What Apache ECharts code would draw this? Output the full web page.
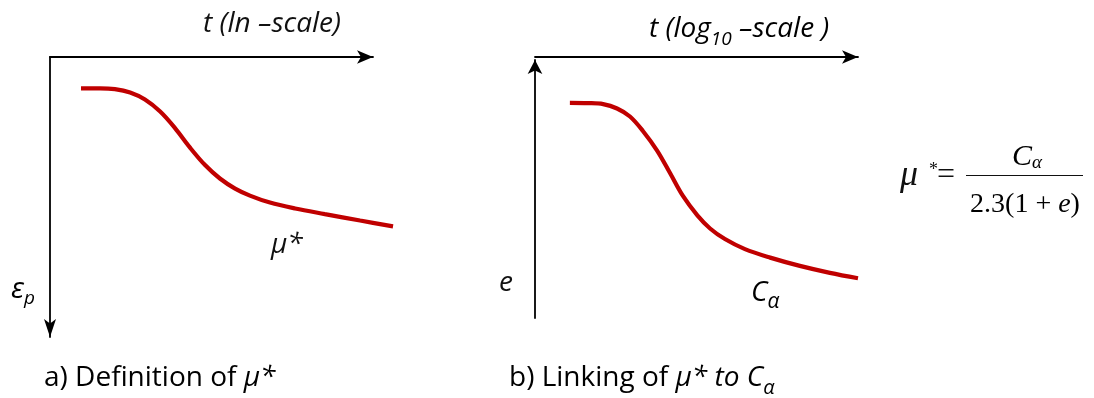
<!DOCTYPE html>
<html>
<head>
<meta charset="utf-8">
<script src="https://cdn.jsdelivr.net/npm/echarts@6/dist/echarts.min.js"></script>
<style>
  html, body { margin: 0; padding: 0; background: #fff; }
  #chart { width: 1094px; height: 398px; }
</style>
</head>
<body>
<div id="chart"></div>
<script>
// a) plastic strain against ln t (strain grows downward)
const lnTime  = [0.96, 1.55, 2.01, 2.48, 2.94, 3.41, 3.87, 4.33, 4.80, 5.26, 5.73, 6.19, 6.81, 7.59, 8.51, 9.60, 10.62];
const strainP = [1.12, 1.12, 1.15, 1.27, 1.52, 1.95, 2.54, 3.23, 3.86, 4.34, 4.70, 4.95, 5.20, 5.41, 5.61, 5.84, 6.05];

// b) void ratio against log10 t
const logTime   = [1.08, 1.64, 2.11, 2.54, 2.94, 3.34, 3.78, 4.18, 4.58, 5.02, 5.42, 5.88, 6.50, 7.28, 8.20, 9.13, 10.0];
const voidRatio = [8.34, 8.33, 8.29, 8.12, 7.81, 7.25, 6.49, 5.62, 4.73, 3.99, 3.47, 3.06, 2.67, 2.34, 2.02, 1.75, 1.54];

const curveColor = '#c00000';
const ink = '#111';
const sans = '"Open Sans", "DejaVu Sans", sans-serif';
const serif = '"Liberation Serif", "DejaVu Serif", serif';
const W = 400;

const chart = echarts.init(document.getElementById('chart'), null, { renderer: 'canvas' });

function arrowLine(arrows, size) {
  return {
    show: true, onZero: false,
    symbol: arrows, symbolSize: size,
    lineStyle: { color: '#000', width: 1.8 }
  };
}
const bare = { axisTick: { show: false }, axisLabel: { show: false }, splitLine: { show: false } };
const noLine = { show: false };

const italic = (size) => ({ fontFamily: sans, fontStyle: 'italic', fontWeight: W, fontSize: size, fill: ink });
const tok = (size, extra) => Object.assign({ fontFamily: sans, fontStyle: 'italic', fontWeight: W, fontSize: size, color: ink }, extra);

chart.setOption({
  animation: false,
  grid: [
    // a) drawn axes
    { left: 50, top: 57, width: 323, height: 280 },
    // b) drawn axes
    { left: 535, top: 60, width: 323, height: 258 },
    // a) curve runs a little past the arrow head: same scale, wider frame
    { left: 50, top: 57, width: 355.3, height: 280 }
  ],
  xAxis: [
    Object.assign({ gridIndex: 0, type: 'value', min: 0, max: 10, position: 'top',
      axisLine: arrowLine(['none', 'arrow'], [10, 16]) }, bare),
    Object.assign({ gridIndex: 1, type: 'value', min: 0, max: 10, position: 'top', offset: 3,
      axisLine: arrowLine(['none', 'arrow'], [10, 16]) }, bare),
    Object.assign({ gridIndex: 2, type: 'value', min: 0, max: 11, axisLine: noLine }, bare)
  ],
  yAxis: [
    Object.assign({ gridIndex: 0, type: 'value', min: 0, max: 10, inverse: true,
      axisLine: arrowLine(['arrow', 'none'], [9, 18]) }, bare),
    Object.assign({ gridIndex: 1, type: 'value', min: 0, max: 10,
      axisLine: arrowLine(['none', 'arrow'], [11, 14]) }, bare),
    Object.assign({ gridIndex: 2, type: 'value', min: 0, max: 10, inverse: true, axisLine: noLine }, bare)
  ],
  series: [
    {
      type: 'line', xAxisIndex: 2, yAxisIndex: 2,
      data: lnTime.map((t, i) => [t, strainP[i]]),
      smooth: 0.35, showSymbol: false, symbol: 'none',
      lineStyle: { color: curveColor, width: 4.2 }
    },
    {
      type: 'line', xAxisIndex: 1, yAxisIndex: 1, clip: false,
      data: logTime.map((t, i) => [t, voidRatio[i]]),
      smooth: 0.35, showSymbol: false, symbol: 'none',
      lineStyle: { color: curveColor, width: 4.2 }
    }
  ],
  graphic: [
    // axis titles
    { type: 'text', x: 203, y: 24, style: Object.assign({ text: 't (ln \u2013scale)', verticalAlign: 'middle' }, italic(28)) },
    { type: 'text', x: 649, y: 29, style: {
        text: '{m|t (log}{s|10}{m| \u2013scale )}', verticalAlign: 'middle',
        rich: { m: tok(28, { lineHeight: 41 }), s: tok(19, { lineHeight: 19, verticalAlign: 'bottom' }) } } },
    // vertical axis symbols
    { type: 'text', x: 11, y: 290, style: {
        text: '{m|\u03b5}{s|p}', verticalAlign: 'middle',
        rich: { m: tok(29, { lineHeight: 36 }), s: tok(19, { lineHeight: 19, verticalAlign: 'bottom' }) } } },
    { type: 'text', x: 499, y: 283, style: Object.assign({ text: 'e', verticalAlign: 'middle' }, italic(28)) },
    // curve labels
    { type: 'text', x: 271, y: 245, style: Object.assign({ text: '\u03bc*', verticalAlign: 'middle' }, italic(28)) },
    { type: 'text', x: 751, y: 293, style: {
        text: '{m|C}{s|\u03b1}', verticalAlign: 'middle',
        rich: { m: tok(28, { lineHeight: 40 }), s: tok(21, { lineHeight: 21, verticalAlign: 'bottom' }) } } },
    // captions
    { type: 'text', x: 44, y: 378, style: {
        text: '{u|a) Definition of }{i|\u03bc*}', verticalAlign: 'middle',
        rich: { u: tok(28, { fontStyle: 'normal', lineHeight: 36 }), i: tok(28, { lineHeight: 36 }) } } },
    { type: 'text', x: 509, y: 378, style: {
        text: '{u|b) Linking of }{i|\u03bc* to C}{s|\u03b1}', verticalAlign: 'middle',
        rich: {
          u: tok(28, { fontStyle: 'normal', lineHeight: 40 }),
          i: tok(28, { lineHeight: 40 }),
          s: tok(20, { lineHeight: 20, verticalAlign: 'bottom' })
        } } },
    // formula  mu* = C_alpha / 2.3(1+e)
    { type: 'text', x: 900, y: 176, style: { text: '\u03bc', verticalAlign: 'middle', fontFamily: serif, fontStyle: 'italic', fontSize: 36, fill: ink } },
    { type: 'text', x: 929, y: 170, style: { text: '*', verticalAlign: 'middle', fontFamily: serif, fontSize: 18, fill: ink } },
    { type: 'text', x: 937, y: 176, style: { text: '=', verticalAlign: 'middle', fontFamily: serif, fontSize: 32, fill: ink } },
    { type: 'text', x: 1027, y: 157, style: {
        text: '{c|C}{s|\u03b1}', align: 'center', verticalAlign: 'middle',
        rich: {
          c: { fontFamily: serif, fontStyle: 'italic', fontSize: 30, lineHeight: 30, color: ink },
          s: { fontFamily: serif, fontStyle: 'italic', fontSize: 19, lineHeight: 19, verticalAlign: 'bottom', color: ink }
        } } },
    { type: 'line', shape: { x1: 966, y1: 175.5, x2: 1083, y2: 175.5 }, style: { stroke: ink, lineWidth: 1.2 } },
    { type: 'text', x: 1025, y: 205, style: {
        text: '{n|2.3(1}{n| + }{e|e}{n|)}', align: 'center', verticalAlign: 'middle',
        rich: {
          n: { fontFamily: serif, fontSize: 28, color: ink },
          e: { fontFamily: serif, fontStyle: 'italic', fontSize: 28, color: ink }
        } } }
  ]
});
</script>
</body>
</html>
